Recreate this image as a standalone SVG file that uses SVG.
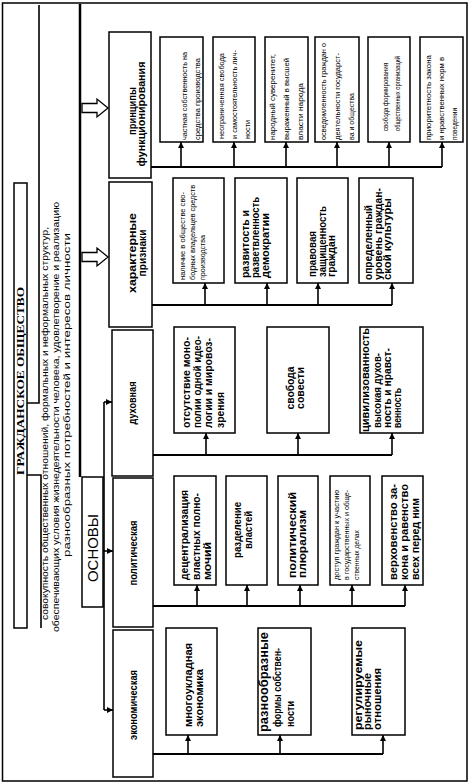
<svg xmlns="http://www.w3.org/2000/svg" width="474" height="784" viewBox="0 0 474 784">
<defs>
<style>
.bx{fill:#fff;stroke:#000;stroke-width:1.5}
.ln{stroke:#000;stroke-width:1.6;fill:none}
.tk{stroke:#000;stroke-width:2.5;fill:none}
text{font-family:"Liberation Sans",Arial,sans-serif;fill:#000}
.s{font-size:6.5px}
.m{font-size:7px}
.n{font-size:10px;font-weight:bold}
.p{font-size:10.5px;font-weight:bold}
.mid{text-anchor:middle}
</style>
<marker id="ah" viewBox="0 0 10 10" refX="10" refY="5" markerWidth="6" markerHeight="6" markerUnits="userSpaceOnUse" orient="auto">
<path d="M0,0 L10,5 L0,10 z" fill="#000"/>
</marker>
</defs>
<rect width="474" height="784" fill="#fff"/>
<rect x="2.5" y="3" width="464.5" height="778" fill="none" stroke="#000" stroke-width="1.5"/>

<g id="title">
<rect class="bx" x="14" y="183" width="13" height="445"/>
<text transform="translate(24,381) rotate(-90)" style="font-family:'Liberation Serif',serif;font-weight:bold;font-size:11px" text-anchor="middle" textLength="188" lengthAdjust="spacingAndGlyphs">ГРАЖДАНСКОЕ ОБЩЕСТВО</text>
</g>

<g id="definition">
<text transform="translate(48.2,423.5) rotate(-90)" style="font-size:9px" text-anchor="middle" textLength="393" lengthAdjust="spacingAndGlyphs">совокупность общественных отношений, формальных и неформальных структур,</text>
<text transform="translate(59.2,417) rotate(-90)" style="font-size:9px" text-anchor="middle" textLength="430" lengthAdjust="spacingAndGlyphs">обеспечивающих условия жизнедеятельности человека, удовлетворение и реализацию</text>
<text transform="translate(70.2,395) rotate(-90)" style="font-size:9px" text-anchor="middle" textLength="324" lengthAdjust="spacingAndGlyphs">разнообразных потребностей и интересов личности</text>
</g>

<g id="osnovy">
<rect class="bx" x="82" y="477" width="21" height="130"/>
<text transform="translate(97.5,548) rotate(-90)" style="font-size:14px" text-anchor="middle" textLength="68" lengthAdjust="spacingAndGlyphs">ОСНОВЫ</text>
</g>

<g id="connectors">
<path class="ln" d="M27,403 H39 V5"/>
<path class="ln" d="M27,475 H41 V628"/>
<path class="tk" d="M80,4 V477"/>
<path d="M82,103.5 H97 V99 L108,108 L97,117 V112.5 H82 Z" fill="#fff" stroke="#000" stroke-width="1.3"/>
<path d="M82,252.5 H97 V248 L108,257 L97,266 V261.5 H82 Z" fill="#fff" stroke="#000" stroke-width="1.3"/>
<path class="ln" d="M104,402 V710"/>
<line class="ln" x1="104" y1="402" x2="112" y2="402" marker-end="url(#ah)"/>
<line class="ln" x1="103" y1="551" x2="113" y2="551" marker-end="url(#ah)"/>
<line class="ln" x1="104" y1="710" x2="113" y2="710" marker-end="url(#ah)"/>
<path class="tk" style="stroke-width:2" d="M151,167 H442"/>
<line class="ln" x1="181" y1="167" x2="181" y2="142" marker-end="url(#ah)"/>
<line class="ln" x1="234" y1="167" x2="234" y2="142" marker-end="url(#ah)"/>
<line class="ln" x1="286" y1="167" x2="286" y2="142" marker-end="url(#ah)"/>
<line class="ln" x1="337" y1="167" x2="337" y2="142" marker-end="url(#ah)"/>
<line class="ln" x1="389" y1="167" x2="389" y2="142" marker-end="url(#ah)"/>
<line class="ln" x1="442" y1="167" x2="442" y2="142" marker-end="url(#ah)"/>
<path class="tk" style="stroke-width:2" d="M152,305 H392"/>
<line class="ln" x1="205" y1="305" x2="205" y2="283" marker-end="url(#ah)"/>
<line class="ln" x1="267" y1="305" x2="267" y2="283" marker-end="url(#ah)"/>
<line class="ln" x1="318" y1="305" x2="318" y2="283" marker-end="url(#ah)"/>
<line class="ln" x1="392" y1="305" x2="392" y2="283" marker-end="url(#ah)"/>
<path class="tk" style="stroke-width:2" d="M153,455 H392"/>
<line class="ln" x1="206" y1="455" x2="206" y2="433" marker-end="url(#ah)"/>
<line class="ln" x1="298" y1="455" x2="298" y2="433" marker-end="url(#ah)"/>
<line class="ln" x1="392" y1="455" x2="392" y2="433" marker-end="url(#ah)"/>
<path class="tk" style="stroke-width:2" d="M153,606 H405"/>
<line class="ln" x1="197" y1="606" x2="197" y2="585" marker-end="url(#ah)"/>
<line class="ln" x1="247" y1="606" x2="247" y2="585" marker-end="url(#ah)"/>
<line class="ln" x1="300" y1="606" x2="300" y2="585" marker-end="url(#ah)"/>
<line class="ln" x1="352" y1="606" x2="352" y2="585" marker-end="url(#ah)"/>
<line class="ln" x1="405" y1="606" x2="405" y2="585" marker-end="url(#ah)"/>
<path class="tk" style="stroke-width:2" d="M153,754 H383"/>
<line class="ln" x1="188" y1="754" x2="188" y2="735" marker-end="url(#ah)"/>
<line class="ln" x1="280" y1="754" x2="280" y2="735" marker-end="url(#ah)"/>
<line class="ln" x1="383" y1="754" x2="383" y2="735" marker-end="url(#ah)"/>
</g>

<g id="principles">
<rect class="bx" x="109" y="32" width="42" height="146"/>
<text class="n mid" transform="translate(135.5,111) rotate(-90)" textLength="48" lengthAdjust="spacingAndGlyphs">принципы</text>
<text class="n mid" transform="translate(144.5,114) rotate(-90)" textLength="105" lengthAdjust="spacingAndGlyphs">функционирования</text>
</g>
<g id="features">
<rect class="bx" x="109" y="182" width="43" height="145"/>
<text class="n mid" transform="translate(135.5,253) rotate(-90)" textLength="80" lengthAdjust="spacingAndGlyphs">характерные</text>
<text class="n mid" transform="translate(145.5,253) rotate(-90)" textLength="47" lengthAdjust="spacingAndGlyphs">признаки</text>
</g>
<g id="spiritual">
<rect class="bx" x="112" y="330" width="41" height="146"/>
<text class="n mid" transform="translate(135.5,403) rotate(-90)" textLength="43" lengthAdjust="spacingAndGlyphs">духовная</text>
</g>
<g id="political">
<rect class="bx" x="113" y="478" width="40" height="149"/>
<text class="n mid" transform="translate(136.5,553) rotate(-90)" textLength="65" lengthAdjust="spacingAndGlyphs">политическая</text>
</g>
<g id="economic">
<rect class="bx" x="113" y="630" width="40" height="147"/>
<text class="n mid" transform="translate(136.5,705) rotate(-90)" textLength="70" lengthAdjust="spacingAndGlyphs">экономическая</text>
</g>

<g id="p1">
<rect class="bx" x="160" y="37" width="43" height="105"/>
<text class="s" transform="translate(187.3,140) rotate(-90)" textLength="88" lengthAdjust="spacingAndGlyphs">частная собственность на</text>
<text class="s" transform="translate(200.3,140) rotate(-90)" textLength="82" lengthAdjust="spacingAndGlyphs">средства производства</text>
</g>
<g id="p2">
<rect class="bx" x="213" y="37" width="42" height="105"/>
<text class="s" transform="translate(224.3,139) rotate(-90)" textLength="86" lengthAdjust="spacingAndGlyphs">неограниченная свобода</text>
<text class="s" transform="translate(237.3,139) rotate(-90)" textLength="89" lengthAdjust="spacingAndGlyphs">и самостоятельность лич-</text>
<text class="s" transform="translate(250.3,139) rotate(-90)" textLength="19" lengthAdjust="spacingAndGlyphs">ности</text>
</g>
<g id="p3">
<rect class="bx" x="265" y="37" width="43" height="105"/>
<text class="s" transform="translate(275.3,140) rotate(-90)" textLength="86" lengthAdjust="spacingAndGlyphs">народный суверенитет,</text>
<text class="s" transform="translate(289.3,140) rotate(-90)" textLength="82" lengthAdjust="spacingAndGlyphs">выраженный в высшей</text>
<text class="s" transform="translate(303.3,140) rotate(-90)" textLength="57" lengthAdjust="spacingAndGlyphs">власти народа</text>
</g>
<g id="p4">
<rect class="bx" x="315" y="37" width="44" height="105"/>
<text class="s" transform="translate(326.3,140) rotate(-90)" textLength="97" lengthAdjust="spacingAndGlyphs">осведомленность граждан о</text>
<text class="s" transform="translate(340.3,140) rotate(-90)" textLength="87" lengthAdjust="spacingAndGlyphs">деятельности государст-</text>
<text class="s" transform="translate(354.3,140) rotate(-90)" textLength="47" lengthAdjust="spacingAndGlyphs">ва и общества</text>
</g>
<g id="p5">
<rect class="bx" x="368" y="37" width="42" height="105"/>
<text class="s" transform="translate(388.3,131) rotate(-90)" textLength="68" lengthAdjust="spacingAndGlyphs">свобода формирования</text>
<text class="s" transform="translate(400.3,131) rotate(-90)" textLength="75" lengthAdjust="spacingAndGlyphs">общественных организаций</text>
</g>
<g id="p6">
<rect class="bx" x="420" y="37" width="43" height="105"/>
<text class="s" transform="translate(431.3,140) rotate(-90)" textLength="85" lengthAdjust="spacingAndGlyphs">приоритетность закона</text>
<text class="s" transform="translate(444.3,140) rotate(-90)" textLength="83" lengthAdjust="spacingAndGlyphs">и нравственных норм в</text>
<text class="s" transform="translate(457.3,140) rotate(-90)" textLength="32" lengthAdjust="spacingAndGlyphs">поведении</text>
</g>

<g id="k1">
<rect class="bx" x="173" y="178" width="51" height="105"/>
<text class="m" transform="translate(184.5,280) rotate(-90)" textLength="88" lengthAdjust="spacingAndGlyphs">наличие в обществе сво-</text>
<text class="m" transform="translate(194.5,280) rotate(-90)" textLength="95" lengthAdjust="spacingAndGlyphs">бодных владельцев средств</text>
<text class="m" transform="translate(204.5,280) rotate(-90)" textLength="45" lengthAdjust="spacingAndGlyphs">производства</text>
</g>
<g id="k2">
<rect class="bx" x="235" y="178" width="52" height="105"/>
<text class="n" transform="translate(248.5,278) rotate(-90)" textLength="68" lengthAdjust="spacingAndGlyphs">развитость и</text>
<text class="n" transform="translate(258.5,278) rotate(-90)" textLength="81" lengthAdjust="spacingAndGlyphs">разветвленность</text>
<text class="n" transform="translate(268.5,278) rotate(-90)" textLength="65" lengthAdjust="spacingAndGlyphs">демократии</text>
</g>
<g id="k3">
<rect class="bx" x="297" y="178" width="51" height="105"/>
<text class="n" transform="translate(315.5,277) rotate(-90)" textLength="46" lengthAdjust="spacingAndGlyphs">правовая</text>
<text class="n" transform="translate(325.5,277) rotate(-90)" textLength="71" lengthAdjust="spacingAndGlyphs">защищенность</text>
<text class="n" transform="translate(334.5,277) rotate(-90)" textLength="42" lengthAdjust="spacingAndGlyphs">граждан</text>
</g>
<g id="k4">
<rect class="bx" x="359" y="178" width="54" height="105"/>
<text class="n" transform="translate(371.5,280) rotate(-90)" textLength="75" lengthAdjust="spacingAndGlyphs">определенный</text>
<text class="n" transform="translate(381.5,280) rotate(-90)" textLength="92" lengthAdjust="spacingAndGlyphs">уровень граждан-</text>
<text class="n" transform="translate(390.5,280) rotate(-90)" textLength="82" lengthAdjust="spacingAndGlyphs">ской культуры</text>
</g>

<g id="d1">
<rect class="bx" x="174" y="327" width="61" height="106"/>
<text class="n" transform="translate(189.5,428) rotate(-90)" textLength="91" lengthAdjust="spacingAndGlyphs">отсутствие моно-</text>
<text class="n" transform="translate(200.5,428) rotate(-90)" textLength="92" lengthAdjust="spacingAndGlyphs">полии одной идео-</text>
<text class="n" transform="translate(211.5,428) rotate(-90)" textLength="90" lengthAdjust="spacingAndGlyphs">логии и мировоз-</text>
<text class="n" transform="translate(223.5,428) rotate(-90)" textLength="36" lengthAdjust="spacingAndGlyphs">зрения</text>
</g>
<g id="d2">
<rect class="bx" x="267" y="327" width="62" height="106"/>
<text class="n mid" transform="translate(293.5,388) rotate(-90)" textLength="43" lengthAdjust="spacingAndGlyphs">свобода</text>
<text class="n mid" transform="translate(303.5,388) rotate(-90)" textLength="42" lengthAdjust="spacingAndGlyphs">совести</text>
</g>
<g id="d3">
<rect class="bx" x="360" y="327" width="63" height="106"/>
<text transform="translate(368.8,432) rotate(-90)" style="font-size:11px;font-weight:bold" textLength="104" lengthAdjust="spacingAndGlyphs">цивилизованность</text>
<text class="n" transform="translate(380.5,428) rotate(-90)" textLength="75" lengthAdjust="spacingAndGlyphs">высокая духов-</text>
<text class="n" transform="translate(390.5,428) rotate(-90)" textLength="80" lengthAdjust="spacingAndGlyphs">ность и нравст-</text>
<text class="n" transform="translate(400.5,428) rotate(-90)" textLength="40" lengthAdjust="spacingAndGlyphs">венность</text>
</g>

<g id="pol1">
<rect class="bx" x="174" y="476" width="42" height="109"/>
<text class="p" transform="translate(187.7,580) rotate(-90)" textLength="90" lengthAdjust="spacingAndGlyphs">децентрализация</text>
<text class="p" transform="translate(199.7,580) rotate(-90)" textLength="87" lengthAdjust="spacingAndGlyphs">властных полно-</text>
<text class="p" transform="translate(210.7,580) rotate(-90)" textLength="38" lengthAdjust="spacingAndGlyphs">мочий</text>
</g>
<g id="pol2">
<rect class="bx" x="226" y="476" width="41" height="109"/>
<text class="p mid" transform="translate(240.7,530) rotate(-90)" textLength="56" lengthAdjust="spacingAndGlyphs">разделение</text>
<text class="p mid" transform="translate(251.7,530) rotate(-90)" textLength="38" lengthAdjust="spacingAndGlyphs">властей</text>
</g>
<g id="pol3">
<rect class="bx" x="278" y="476" width="40" height="109"/>
<text class="p" transform="translate(295.7,578) rotate(-90)" textLength="86" lengthAdjust="spacingAndGlyphs">политический</text>
<text class="p" transform="translate(305.7,578) rotate(-90)" textLength="68" lengthAdjust="spacingAndGlyphs">плюрализм</text>
</g>
<g id="pol4">
<rect class="bx" x="330" y="476" width="40" height="109"/>
<text class="s" transform="translate(339.3,580) rotate(-90)" textLength="90" lengthAdjust="spacingAndGlyphs">доступ граждан к участию</text>
<text class="s" transform="translate(349.3,580) rotate(-90)" textLength="90" lengthAdjust="spacingAndGlyphs">в государственных и обще-</text>
<text class="s" transform="translate(359.3,580) rotate(-90)" textLength="50" lengthAdjust="spacingAndGlyphs">ственных делах</text>
</g>
<g id="pol5">
<rect class="bx" x="382" y="476" width="41" height="109"/>
<text class="n" transform="translate(396.5,580) rotate(-90)" textLength="96" lengthAdjust="spacingAndGlyphs">верховенство за-</text>
<text class="n" transform="translate(407.5,580) rotate(-90)" textLength="96" lengthAdjust="spacingAndGlyphs">кона и равенство</text>
<text class="n" transform="translate(418.5,580) rotate(-90)" textLength="82" lengthAdjust="spacingAndGlyphs">всех перед ним</text>
</g>

<g id="e1">
<rect class="bx" x="166" y="628" width="51" height="107"/>
<text class="n" transform="translate(191.5,727) rotate(-90)" textLength="84" lengthAdjust="spacingAndGlyphs">многоукладная</text>
<text class="n" transform="translate(202.5,727) rotate(-90)" textLength="58" lengthAdjust="spacingAndGlyphs">экономика</text>
</g>
<g id="e2">
<rect class="bx" x="258" y="628" width="53" height="107"/>
<text transform="translate(268.2,732) rotate(-90)" style="font-size:12px;font-weight:bold" textLength="100" lengthAdjust="spacingAndGlyphs">разнообразные</text>
<text class="n" transform="translate(280.5,727) rotate(-90)" textLength="79" lengthAdjust="spacingAndGlyphs">формы собствен-</text>
<text class="n" transform="translate(293.5,727) rotate(-90)" textLength="26" lengthAdjust="spacingAndGlyphs">ности</text>
</g>
<g id="e3">
<rect class="bx" x="352" y="628" width="53" height="107"/>
<text transform="translate(361.8,730) rotate(-90)" style="font-size:11px;font-weight:bold" textLength="90" lengthAdjust="spacingAndGlyphs">регулируемые</text>
<text class="n" transform="translate(370.5,730) rotate(-90)" textLength="57" lengthAdjust="spacingAndGlyphs">рыночные</text>
<text class="n" transform="translate(380.5,730) rotate(-90)" textLength="62" lengthAdjust="spacingAndGlyphs">отношения</text>
</g>
</svg>
